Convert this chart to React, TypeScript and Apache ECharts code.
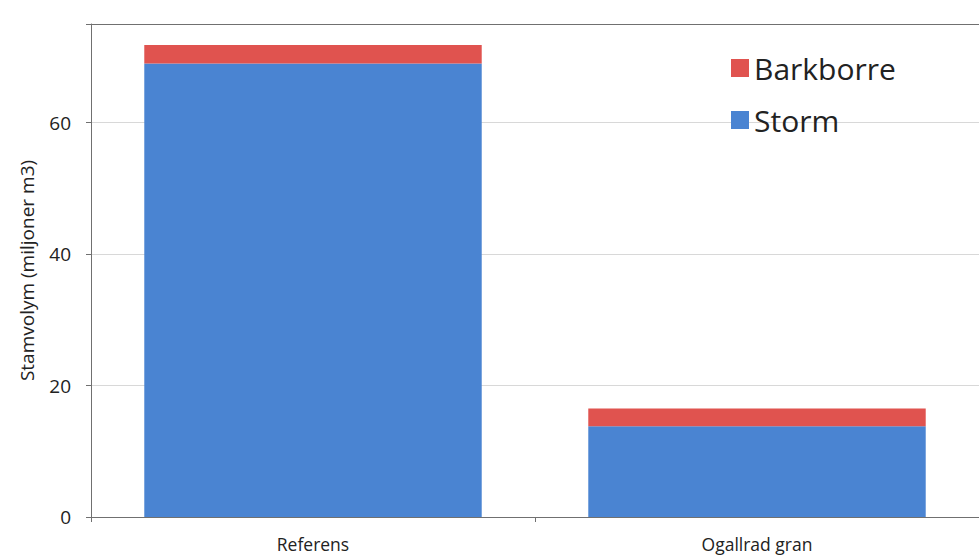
import React, { useEffect, useRef } from "react";
import * as echarts from "echarts";

const categories = ["Referens", "Ogallrad gran"];
const stormValues = [69, 13.8];
const barkborreValues = [2.8, 2.7];
const yTicks = [0, 20, 40, 60];

export default function App() {
  const ref = useRef<HTMLDivElement>(null);
  useEffect(() => {
    if (!ref.current) return;
    const chart = echarts.init(ref.current, undefined, { renderer: "svg" });
    const font = "'Open Sans', 'Noto Sans', sans-serif";
    chart.setOption({
      animation: false,
      backgroundColor: "#ffffff",
      textStyle: { fontFamily: font },
      grid: {
        left: 91,
        top: 24,
        width: 896,
        height: 493,
      },
      legend: {
        orient: "vertical",
        left: 726,
        top: 48,
        itemWidth: 18,
        itemHeight: 18,
        itemGap: 22,
        icon: "rect",
        data: ["Barkborre", "Storm"],
        textStyle: { fontSize: 30, color: "#222", fontFamily: font },
      },
      xAxis: [
        {
          type: "category",
          data: categories,
          axisLine: { lineStyle: { color: "#707070" } },
          axisTick: { show: true, length: 5, lineStyle: { color: "#707070" } },
          axisLabel: { fontSize: 17.5, color: "#222", margin: 18, fontFamily: font },
        },
        {
          type: "category",
          data: categories,
          position: "top",
          axisLine: { show: true, lineStyle: { color: "#707070" } },
          axisTick: { show: false },
          axisLabel: { show: false },
        },
      ],
      yAxis: {
        type: "value",
        min: 0,
        max: 75,
        interval: 20,
        name: "Stamvolym (miljoner m3)",
        nameLocation: "middle",
        nameGap: 55,
        nameTextStyle: { fontSize: 19, color: "#222", fontFamily: font },
        axisLine: { show: true, lineStyle: { color: "#707070" } },
        axisTick: { show: true, length: 5, lineStyle: { color: "#707070" } },
        axisLabel: {
          fontSize: 19,
          color: "#222",
          margin: 20,
          fontFamily: font,
          formatter: (v: number) => (yTicks.includes(v) ? String(v) : ""),
        },
        splitLine: { show: true, lineStyle: { color: "#d8d8d8" } },
      },
      series: [
        {
          name: "Storm",
          type: "bar",
          stack: "total",
          data: stormValues,
          barCategoryGap: "24%",
          itemStyle: { color: "#4A84D2" },
        },
        {
          name: "Barkborre",
          type: "bar",
          stack: "total",
          data: barkborreValues,
          itemStyle: { color: "#E0534F" },
        },
      ],
    });
    return () => chart.dispose();
  }, []);
  return <div ref={ref} style={{ width: 979, height: 556, position: "fixed", left: 0, top: 0 }} />;
}
